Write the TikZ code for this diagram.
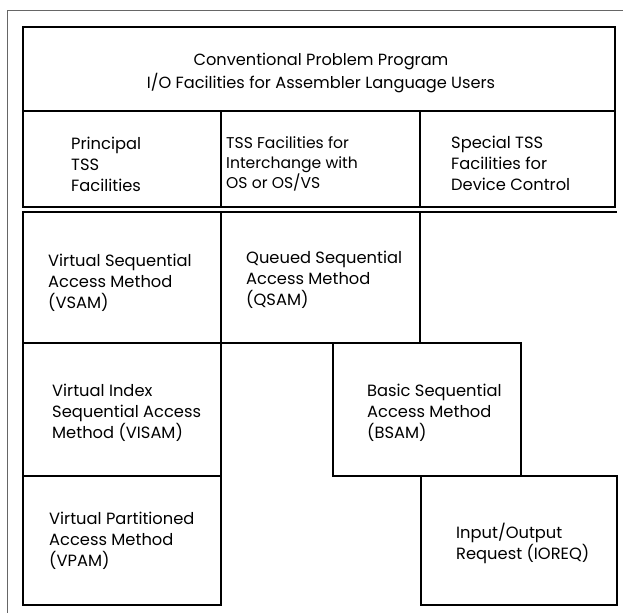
\documentclass[tikz,border=0pt]{standalone}
\usepackage{fontspec}
\setmainfont{Poppins}
\usetikzlibrary{positioning}
\tikzset{
  frame/.style={line width=1.2pt},
  lbl/.style={anchor=west, align=left, inner sep=0pt, font=\fontsize{16.3}{21}\selectfont},
}
\begin{document}
\begin{tikzpicture}[x=1pt,y=-1pt]
  \useasboundingbox (0,0) rectangle (623,613);
  % page border
  \draw[line width=0.6pt, black!60] (623,10) -- (7,10) -- (7,613);
  % top block with the three facility columns
  \draw[frame] (23,27) rectangle (615,207);
  \draw[frame] (23,111) -- (615,111);
  \draw[frame] (221,111) -- (221,207);
  \draw[frame] (420,111) -- (420,207);
  \node[lbl, anchor=center, align=center, font=\fontsize{16.2}{23}\selectfont] (conv) at (321,73)
    {Conventional Problem Program\\I/O Facilities for Assembler Language Users};
  \node[lbl] (princ) at (71,164) {Principal\\TSS\\Facilities};
  \node[lbl, font=\fontsize{15.6}{20}\selectfont] (inter) at (226,164) {TSS Facilities for\\Interchange with\\OS or OS/VS};
  \node[lbl] (special) at (451,163) {Special TSS\\Facilities for\\Device Control};
  % access methods
  \draw[frame] (23,212) -- (617,212);
  \draw[frame] (23,212) rectangle (221,343);
  \draw[frame] (221,212) rectangle (420,343);
  \draw[frame] (23,343) rectangle (221,476);
  \draw[frame] (333,343) rectangle (521,476);
  \draw[frame] (23,476) rectangle (221,605);
  \draw[frame] (421,476) rectangle (617,605);
  \node[lbl] (vsam) at (48,283) {Virtual Sequential\\Access Method\\(VSAM)};
  \node[lbl] (qsam) at (246,280) {Queued Sequential\\Access Method\\(QSAM)};
  \node[lbl] (visam) at (52,413) {Virtual Index\\Sequential Access\\Method (VISAM)};
  \node[lbl] (bsam) at (367,413) {Basic Sequential\\Access Method\\(BSAM)};
  \node[lbl] (vpam) at (49,541) {Virtual Partitioned\\Access Method\\(VPAM)};
  \node[lbl] (ioreq) at (456,543) {Input/Output\\Request (IOREQ)};
\end{tikzpicture}
\end{document}
